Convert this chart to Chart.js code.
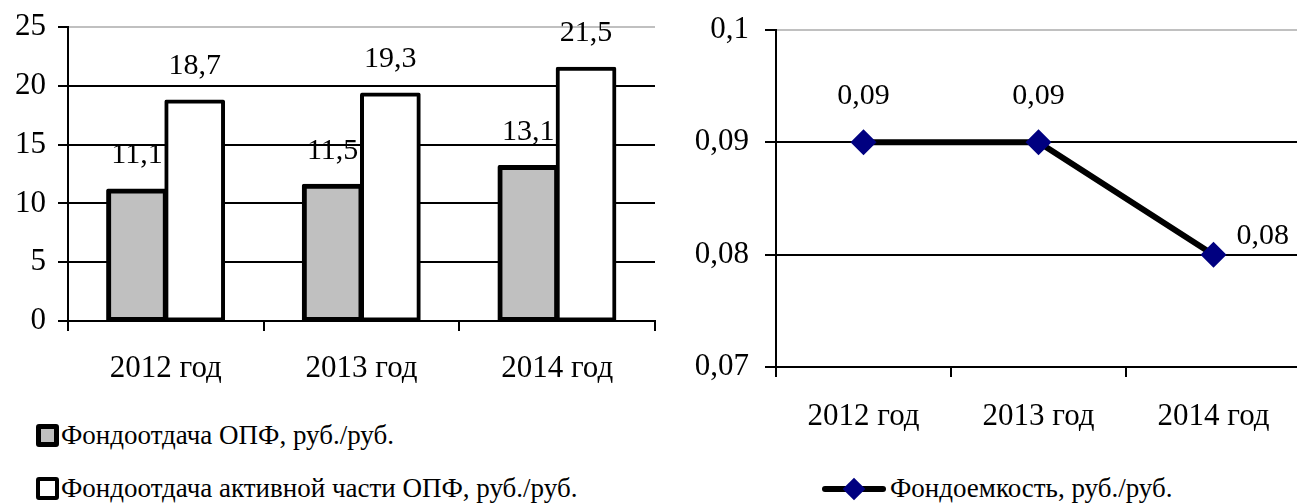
<!DOCTYPE html>
<html>
<head>
<meta charset="utf-8">
<script src="https://cdn.jsdelivr.net/npm/chart.js@4/dist/chart.umd.min.js"></script>
<style>
  body { margin: 0; background: #fff; width: 1297px; height: 503px; overflow: hidden; position: relative; font-family: "Times New Roman", "Liberation Serif", "DejaVu Serif", serif; }
  #barBox { position: absolute; left: 0; top: 0; width: 680px; height: 400px; }
  #lineBox { position: absolute; left: 680px; top: 0; width: 621px; height: 460px; }
  .leg { position: absolute; font-size: 27px; color: #000; white-space: nowrap; line-height: 1; }
  .sq { display: inline-block; vertical-align: middle; box-sizing: border-box; border: 4px solid #000; border-radius: 3px; width: 23px; height: 23px; margin-right: 2px; position: relative; top: -2px; }
  .lineMark { display: inline-block; position: relative; width: 64px; height: 24px; vertical-align: middle; margin-right: 4px; top: -2px; }
  .lineMark .ln { position: absolute; left: 0; right: 0; top: 9px; height: 6px; background: #000; border-radius: 3px; }
  .lineMark .dm { position: absolute; left: 24px; top: 4px; width: 16px; height: 16px; background: #000080; transform: rotate(45deg); }
</style>
</head>
<body>
<div id="barBox"><canvas id="barChart"></canvas></div>
<div id="lineBox"><canvas id="lineChart"></canvas></div>

<div class="leg" style="left:36px; top:422px;"><span class="sq" style="background:#c0c0c0; border-width:5px;"></span>Фондоотдача ОПФ, руб./руб.</div>
<div class="leg" style="left:36px; top:475px;"><span class="sq" style="background:#fff; border-width:4px;"></span>Фондоотдача активной части ОПФ, руб./руб.</div>
<div class="leg" style="left:822px; top:475px;"><span class="lineMark"><span class="ln"></span><span class="dm"></span></span>Фондоемкость, руб./руб.</div>

<script>
// данные
const years = ['2012 год', '2013 год', '2014 год'];
const fondootdacha = [11.1, 11.5, 13.1];
const fondootdachaActive = [18.7, 19.3, 21.5];
const fondoemkost = [0.09, 0.09, 0.08];
const barTicks = [0, 5, 10, 15, 20, 25];
const lineTicks = [0.07, 0.08, 0.09, 0.1];

const FONT = '"Times New Roman", "Liberation Serif", serif';
const TICK_SIZE = 31;
const fmt = v => (Math.round(v * 100) / 100).toString().replace('.', ',');

// подписи значений над точками
const valueLabels = {
  id: 'valueLabels',
  afterDatasetsDraw(chart, args, opts) {
    const ctx = chart.ctx;
    ctx.save();
    ctx.font = opts.size + 'px ' + FONT;
    ctx.fillStyle = '#000';
    ctx.textBaseline = 'middle';
    chart.data.datasets.forEach((ds, i) => {
      const meta = chart.getDatasetMeta(i);
      meta.data.forEach((el, j) => {
        let x = el.x, y = el.y - opts.offset;
        ctx.textAlign = 'center';
        if (opts.lastRight && j === ds.data.length - 1) {
          x = el.x + 23;
          y = el.y - 19;
          ctx.textAlign = 'left';
        }
        ctx.fillText(fmt(ds.data[j]), x, y);
      });
    });
    ctx.restore();
  }
};

const gridColor = max => ctx => (ctx.tick && Math.abs(ctx.tick.value - max) < 1e-9) ? '#c0c0c0' : '#000';

// фиксированные размеры осей, без лишних отступов под подписи
const fixY = w => s => { s.width = w; s.paddingTop = 0; s.paddingBottom = 0; };
const fixX = h => s => { s.height = h; s.paddingLeft = 0; s.paddingRight = 0; };

new Chart(document.getElementById('barChart'), {
  type: 'bar',
  data: {
    labels: years,
    datasets: [
      { label: 'Фондоотдача ОПФ, руб./руб.', data: fondootdacha, backgroundColor: '#c0c0c0', borderColor: '#000', borderWidth: 5, borderSkipped: false, borderRadius: 2, inflateAmount: 2 },
      { label: 'Фондоотдача активной части ОПФ, руб./руб.', data: fondootdachaActive, backgroundColor: '#fff', borderColor: '#000', borderWidth: 4, borderSkipped: false, borderRadius: 2, inflateAmount: 1.5 }
    ]
  },
  options: {
    responsive: true,
    maintainAspectRatio: false,
    animation: false,
    datasets: { bar: { categoryPercentage: 0.59, barPercentage: 1.0 } },
    layout: { autoPadding: false, padding: { top: 27, right: 25, left: 0, bottom: 0 } },
    plugins: {
      legend: { display: false },
      tooltip: { enabled: false },
      valueLabels: { size: 30, offset: 35 }
    },
    scales: {
      x: {
        offset: true,
        grid: { offset: true, drawOnChartArea: false, color: '#000', lineWidth: 2, tickLength: 10 },
        border: { color: '#000', width: 2 },
        ticks: { color: '#000', font: { family: FONT, size: TICK_SIZE }, padding: 19 },
        afterFit: fixX(79)
      },
      y: {
        min: 0, max: 25,
        afterBuildTicks: s => { s.ticks = barTicks.map(v => ({ value: v })); },
        grid: { color: gridColor(25), tickColor: '#000', lineWidth: 2, tickLength: 10 },
        border: { color: '#000', width: 2 },
        ticks: { color: '#000', font: { family: FONT, size: TICK_SIZE }, padding: 12, callback: v => fmt(v) },
        afterFit: fixY(68)
      }
    }
  },
  plugins: [valueLabels]
});

new Chart(document.getElementById('lineChart'), {
  type: 'line',
  data: {
    labels: years,
    datasets: [
      { label: 'Фондоемкость, руб./руб.', data: fondoemkost, borderColor: '#000', borderWidth: 6, pointStyle: 'rectRot', pointRadius: 13, pointBackgroundColor: '#000080', pointBorderColor: '#000080', pointBorderWidth: 0, tension: 0 }
    ]
  },
  options: {
    responsive: true,
    maintainAspectRatio: false,
    animation: false,
    layout: { autoPadding: false, padding: { top: 30, right: 0, left: 0, bottom: 0 } },
    plugins: {
      legend: { display: false },
      tooltip: { enabled: false },
      valueLabels: { size: 30, offset: 46, lastRight: true }
    },
    scales: {
      x: {
        offset: true,
        grid: { offset: true, drawOnChartArea: false, color: '#000', lineWidth: 2, tickLength: 10 },
        border: { color: '#000', width: 2 },
        ticks: { color: '#000', font: { family: FONT, size: TICK_SIZE }, padding: 21 },
        afterFit: fixX(93)
      },
      y: {
        min: 0.07, max: 0.1,
        afterBuildTicks: s => { s.ticks = lineTicks.map(v => ({ value: v })); },
        grid: { color: gridColor(0.1), tickColor: '#000', lineWidth: 2, tickLength: 11 },
        border: { color: '#000', width: 2 },
        ticks: { color: '#000', font: { family: FONT, size: TICK_SIZE }, padding: 16, callback: v => fmt(v) },
        afterFit: fixY(96)
      }
    }
  },
  plugins: [valueLabels]
});
</script>
</body>
</html>
